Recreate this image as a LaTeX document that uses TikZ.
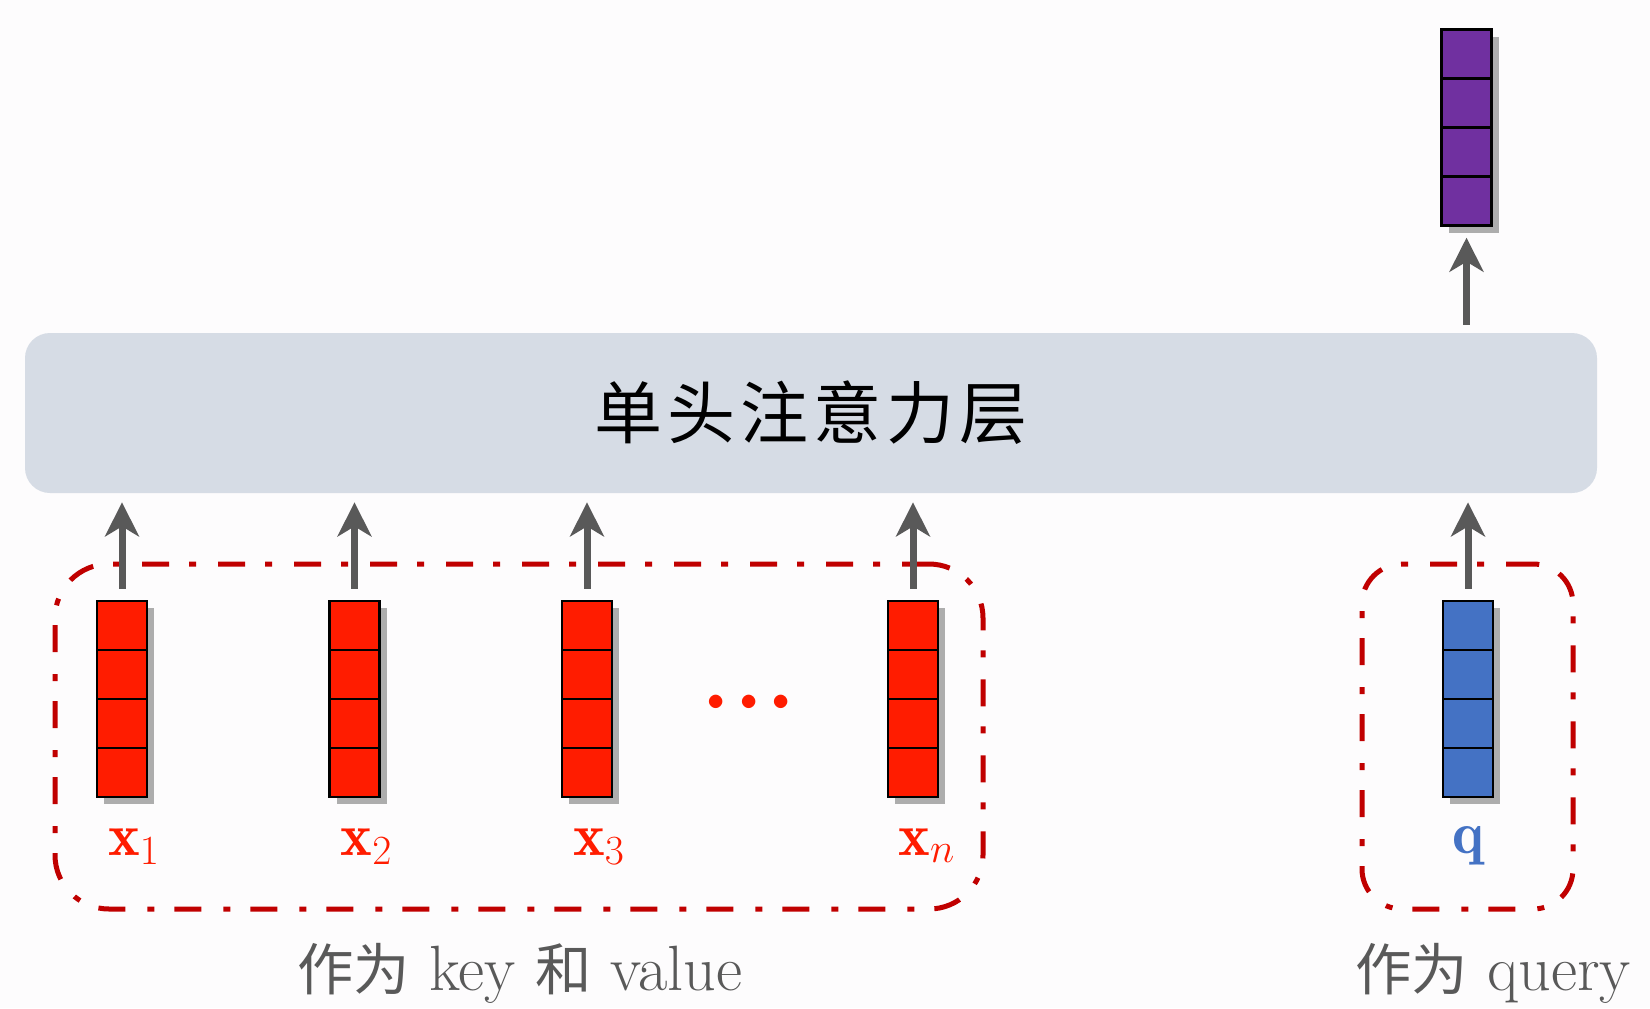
\documentclass[tikz,border=0pt]{standalone}
\usepackage{amsmath}
\usepackage{fontspec}
\newfontfamily\cjk{Noto Sans CJK SC}
\newfontfamily\cjksmall[Scale=0.88]{Noto Sans CJK SC}
\usetikzlibrary{shapes}
\usetikzlibrary{shadows}
\usetikzlibrary{positioning}
\usetikzlibrary{arrows.meta}
\definecolor{vred}{HTML}{FF1C00}
\definecolor{vblue}{HTML}{4472C4}
\definecolor{vpurple}{HTML}{7030A0}
\definecolor{dred}{HTML}{C00000}
\definecolor{lgray}{HTML}{D6DCE5}
\definecolor{agray}{HTML}{595959}
\definecolor{bgcol}{HTML}{FDFCFD}
\tikzset{
    vec/.style = {rectangle, inner sep=0pt, minimum width=25pt, minimum height=98pt,
        draw=black, line width=1.2pt,
        drop shadow={shadow xshift=3.5pt, shadow yshift=-3.5pt, fill=black!45, opacity=.7},
        path picture={\foreach \k in {1,2,3}
          \draw[line width=1.2pt] ([yshift=-\k*24.5pt]path picture bounding box.north west)
            -- ([yshift=-\k*24.5pt]path picture bounding box.north east);}},
    vecr/.style = {vec, fill=vred},
    vecb/.style = {vec, fill=vblue},
    vecp/.style = {vec, fill=vpurple},
    layerbox/.style = {rectangle, rounded corners=12.5pt, fill=lgray, minimum width=786pt, minimum height=80pt,
        font=\cjk\fontsize{34}{40}\selectfont, text=black},
    groupbox/.style = {rectangle, draw=dred, line width=2.5pt, dash pattern=on 13.5pt off 11pt on 3.5pt off 10pt},
    xlab/.style = {inner sep=0pt, font=\fontsize{30}{36}\selectfont, text=vred},
    qlab/.style = {inner sep=0pt, font=\fontsize{30}{36}\selectfont, text=vblue},
    note/.style = {inner sep=0pt, anchor=base, font=\fontsize{32}{38}\selectfont, text=agray},
    arr/.style = {-{Stealth[width=17pt,length=17pt,inset=5pt]}, line width=3.5pt, agray},
    arrin/.style = {arr, shorten <=5.5pt, shorten >=4.5pt}, % into layer
    arrout/.style = {arr, shorten <=4pt, shorten >=5.5pt}  % out of layer
}
\begin{document}
\begin{tikzpicture}[x=0.5pt, y=-0.5pt]
  \useasboundingbox (0,0) rectangle (1650,1008);
  \fill[bgcol] (0,0) rectangle (1650,1008);

  \node[layerbox] (layer) at (811,413) {单\kern2.5pt 头\kern2.5pt 注\kern2.5pt 意\kern2.5pt 力\kern2.5pt 层};

  \node[groupbox, rounded corners=27pt, minimum width=464pt, minimum height=172.5pt] (kv) at (519,736.5) {};
  \node[groupbox, rounded corners=20pt, minimum width=105.5pt, minimum height=172.5pt] (qbox) at (1467.5,736.5) {};

  \node[vecr] (x1) at (122,699) {};
  \node[vecr] (x2) at (354.5,699) {};
  \node[vecr] (x3) at (587,699) {};
  \node[vecr] (xn) at (913,699) {};
  \node[vecb] (q) at (1468,699) {};
  \node[vecp] (out) at (1466.5,127.5) {};

  \node[xlab, below=15pt of x1, xshift=6pt] (x1lab) {$\mathbf{x}_1$};
  \node[xlab, below=15pt of x2, xshift=6pt] (x2lab) {$\mathbf{x}_2$};
  \node[xlab, below=15pt of x3, xshift=6pt] (x3lab) {$\mathbf{x}_3$};
  \node[xlab, below=15pt of xn, xshift=7pt] (xnlab) {$\mathbf{x}_n$};
  \node[qlab, below=14pt of q] (qlabel) {$\mathbf{q}$};
  \node[xlab, font=\fontsize{18}{22}\selectfont] (dots) at (749,703) {$\bullet\mkern4mu\bullet\mkern4mu\bullet$};

  \draw[arrin] (x1.north) -- (x1.north |- layer.south);
  \draw[arrin] (x2.north) -- (x2.north |- layer.south);
  \draw[arrin] (x3.north) -- (x3.north |- layer.south);
  \draw[arrin] (xn.north) -- (xn.north |- layer.south);
  \draw[arrin] (q.north) -- (q.north |- layer.south);
  \draw[arrout] (out.south |- layer.north) -- (out.south);

  \node[note] (kvnote) at (520,990) {{\cjksmall 作为} key {\cjksmall 和} value};
  \node[note] (qnote) at (1493,990) {{\cjksmall 作为} query};
\end{tikzpicture}
\end{document}
